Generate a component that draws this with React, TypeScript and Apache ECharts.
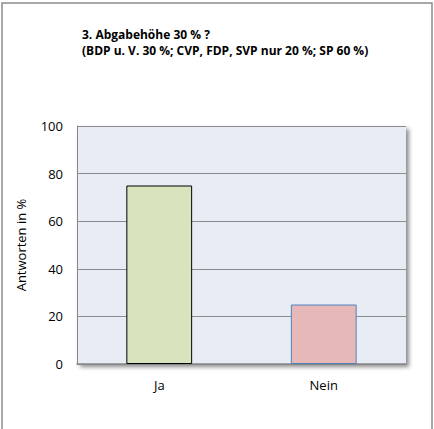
import React, { useEffect, useRef } from "react";
import * as echarts from "echarts";

const categories = ["Ja", "Nein"];
const values = [75, 25];
const barFills = ["#d7e4bd", "#e6b9b8"];
const barBorders = ["#000000", "#4f81bd"];
const titleLines = ["3. Abgabehöhe 30 % ?", "(BDP u. V. 30 %; CVP, FDP, SVP nur 20 %; SP 60 %)"];
const yAxisName = "Antworten in %";

const FONT = "'Open Sans', 'Liberation Sans', sans-serif";

export default function App() {
  const ref = useRef<HTMLDivElement>(null);
  useEffect(() => {
    if (!ref.current) return;
    const chart = echarts.init(ref.current, null, { renderer: "svg" });
    chart.setOption({
      animation: false,
      backgroundColor: "#ffffff",
      graphic: [
        {
          type: "polyline",
          shape: { points: [[2, 429], [2, 3], [432, 3], [432, 429]] },
          style: { stroke: "#8c8c8c", lineWidth: 1.5, fill: null },
          silent: true,
        },
        {
          type: "text",
          left: 82,
          top: 26,
          style: {
            text: titleLines.join("\n"),
            font: `bold 12px ${FONT}`,
            fill: "#000",
            lineHeight: 16,
          },
        },
      ],
      grid: {
        left: 77,
        top: 126,
        width: 329,
        height: 238,
        show: true,
        backgroundColor: "#e8edf5",
        borderWidth: 0,
        shadowColor: "rgba(0,0,0,0.45)",
        shadowBlur: 4,
        shadowOffsetX: 3,
        shadowOffsetY: 3,
      },
      xAxis: {
        type: "category",
        data: categories,
        axisLine: { show: true, lineStyle: { color: "#868686", width: 1.5 } },
        axisTick: { show: false },
        axisLabel: { color: "#000", fontSize: 13, fontFamily: FONT, margin: 14 },
      },
      yAxis: {
        type: "value",
        min: 0,
        max: 100,
        interval: 20,
        name: yAxisName,
        nameLocation: "middle",
        nameGap: 50,
        nameTextStyle: { color: "#000", fontSize: 13, fontFamily: FONT },
        axisLine: { show: true, lineStyle: { color: "#868686", width: 1 } },
        axisTick: { show: false },
        axisLabel: { color: "#000", fontSize: 13, fontFamily: FONT, margin: 14 },
        splitLine: { show: true, lineStyle: { color: "#8c8c8c", width: 1 } },
      },
      series: [
        {
          type: "bar",
          barWidth: "40%",
          data: values.map((v, i) => ({
            value: v,
            itemStyle: { color: barFills[i], borderColor: barBorders[i], borderWidth: 1 },
          })),
        },
      ],
    });
    return () => chart.dispose();
  }, []);
  return <div ref={ref} style={{ width: 434, height: 429, position: "absolute", left: 0, top: 0 }} />;
}
